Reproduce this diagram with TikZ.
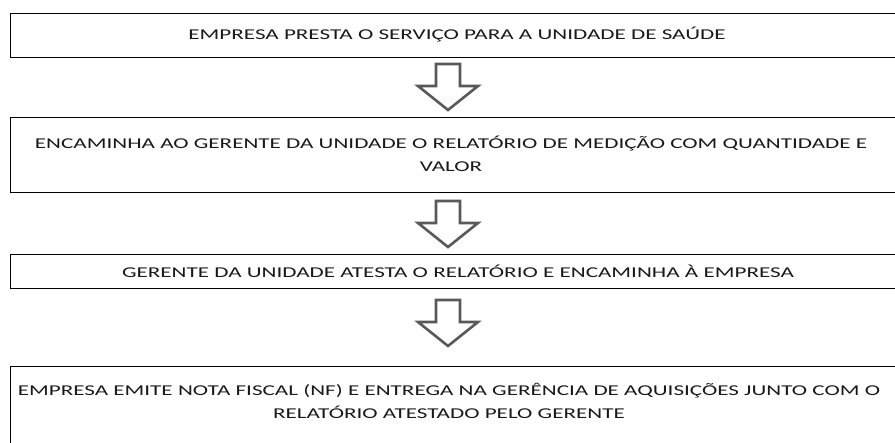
\documentclass[tikz,border=0pt]{standalone}
\usepackage{fontspec}
\setmainfont{Carlito}
\newcommand{\wideline}[1]{\scalebox{1.54}[1]{#1}}
\begin{document}
\begin{tikzpicture}[x=1bp,y=-1bp,
  stepbox/.style={draw=black,line width=1.3bp,rectangle,inner sep=0,anchor=north west},
  lbl/.style={text=black!90,font=\fontsize{15bp}{23bp}\selectfont,align=center,inner sep=0},
  blockarrow/.style={draw=black!65,line width=2.6bp,fill=white,line join=miter}]
\useasboundingbox (0,0) rectangle (895,443);
\node[stepbox,minimum width=890bp,minimum height=44bp] (b1) at (10,13) {};
\node[stepbox,minimum width=890bp,minimum height=75bp] (b2) at (10,117) {};
\node[stepbox,minimum width=890bp,minimum height=34bp] (b3) at (10,254) {};
\node[stepbox,minimum width=890bp,minimum height=90bp] (b4) at (10,366) {};
\node[lbl] (t1) at (457,35) {\wideline{EMPRESA PRESTA O SERVIÇO PARA A UNIDADE DE SAÚDE}};
\node[lbl] (t2) at (451,154) {\wideline{ENCAMINHA AO GERENTE DA UNIDADE O RELATÓRIO DE MEDIÇÃO COM QUANTIDADE E}\\\wideline{VALOR}};
\node[lbl] (t3) at (458,271) {\wideline{GERENTE DA UNIDADE ATESTA O RELATÓRIO E ENCAMINHA À EMPRESA}};
\node[lbl] (t4) at (449,401) {\wideline{EMPRESA EMITE NOTA FISCAL (NF) E ENTREGA NA GERÊNCIA DE AQUISIÇÕES JUNTO COM O}\\\wideline{RELATÓRIO ATESTADO PELO GERENTE}};
\foreach \n/\y in {1/64,2/201,3/300}{
  \draw[blockarrow] (436,\y) -- (460,\y) -- (460,\y+22) -- (478,\y+22) -- (448,\y+46) -- (418,\y+22) -- (436,\y+22) -- cycle;
}
\end{tikzpicture}
\end{document}
